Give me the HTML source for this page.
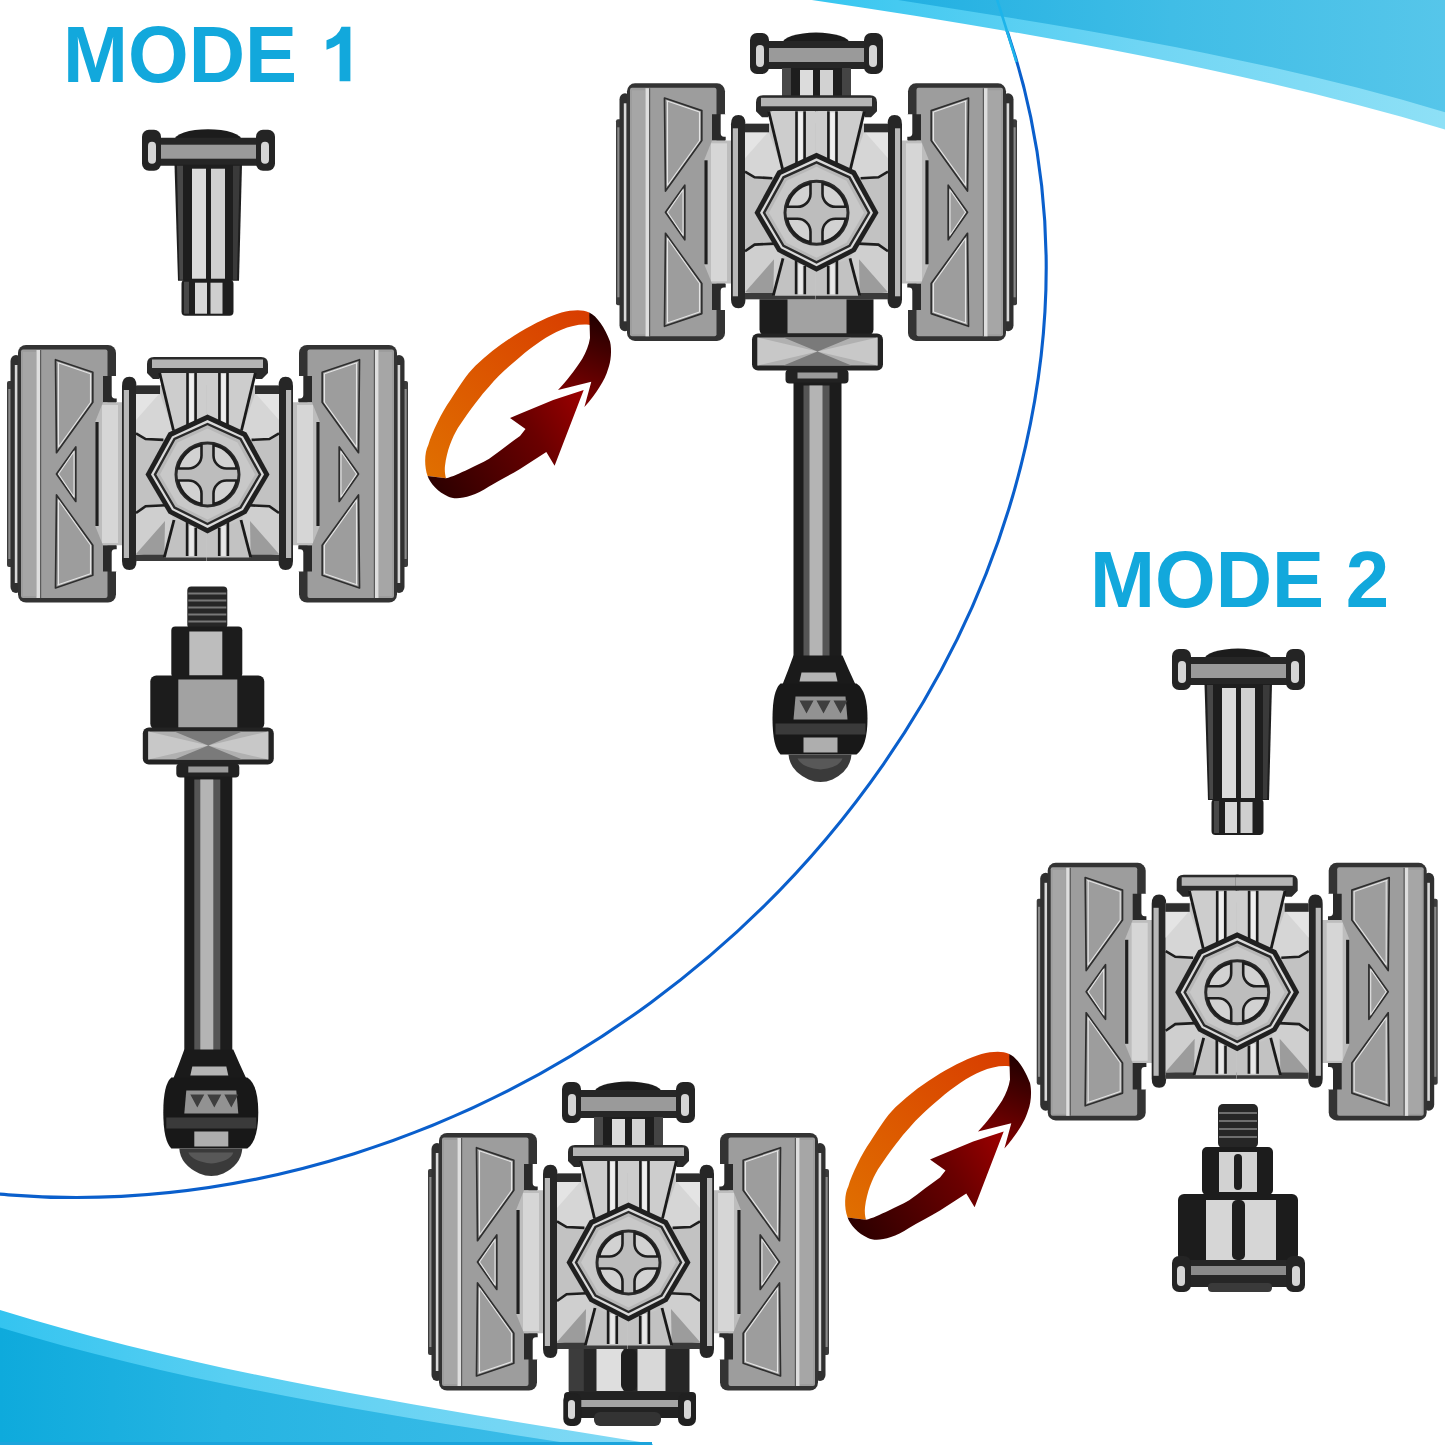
<!DOCTYPE html>
<html><head><meta charset="utf-8">
<style>
html,body{margin:0;padding:0;background:#fff;width:1445px;height:1445px;overflow:hidden}
svg{position:absolute;left:0;top:0}
.t{position:absolute;font-family:"Liberation Sans",sans-serif;font-weight:bold;font-size:78px;line-height:1;color:#12a8dc;white-space:nowrap;transform-origin:0 0}
</style></head><body>
<svg width="1445" height="1445" viewBox="0 0 1445 1445">
<defs>
 <linearGradient id="swTop" x1="898" y1="0" x2="1445" y2="0" gradientUnits="userSpaceOnUse">
  <stop offset="0" stop-color="#22b0e2"/><stop offset="0.5" stop-color="#40bde6"/><stop offset="1" stop-color="#56c6ea"/>
 </linearGradient>
 <linearGradient id="swTopL" x1="811" y1="0" x2="1445" y2="0" gradientUnits="userSpaceOnUse">
  <stop offset="0" stop-color="#36c6f0"/><stop offset="0.55" stop-color="#72d6f4"/><stop offset="1" stop-color="#8ee0f6"/>
 </linearGradient>
 <linearGradient id="swBot" x1="0" y1="0" x2="560" y2="0" gradientUnits="userSpaceOnUse">
  <stop offset="0" stop-color="#0eaadc"/><stop offset="0.4" stop-color="#26b4e2"/><stop offset="1" stop-color="#3cbce8"/>
 </linearGradient>
 <linearGradient id="swBotL" x1="0" y1="0" x2="653" y2="0" gradientUnits="userSpaceOnUse">
  <stop offset="0" stop-color="#34c4f0"/><stop offset="0.35" stop-color="#58cff2"/><stop offset="1" stop-color="#84daf5"/>
 </linearGradient>
 <g id="hh">
  <rect x="0" y="36" width="6" height="186" rx="2" fill="#3c3c3c"/>
  <rect x="1.3" y="44" width="2.6" height="170" fill="#8a8a8a"/>
  <rect x="3.5" y="10" width="11" height="238" rx="6" fill="#303030"/>
  <rect x="7.8" y="20" width="2.6" height="218" fill="#d8d8d8"/>
  <rect x="11" y="0" width="98" height="257.6" rx="8" fill="#333"/>
  <rect x="14" y="4.5" width="86.5" height="248.5" rx="2" fill="#9d9d9d"/>
  <rect x="16" y="7" width="13" height="244" fill="#a6a6a6"/>
  <rect x="29.5" y="5" width="3.5" height="248" fill="#dedede"/>
  <rect x="33" y="5" width="1.2" height="248" fill="#5a5a5a"/>
  <g fill="none" stroke-linejoin="round">
   <path d="M48.5,14.7 L85.8,27.3 V57.3 L49.5,107.7 Z M49.5,129 L68.8,101.9 V156.5 Z M48.5,243 L85.8,230.3 V200.3 L49.5,150 Z" stroke="#2e2e2e" stroke-width="1.7"/>
   <path d="M50.5,17.5 L83.5,28.8 V57.5 L51.5,102 V17.5 M51.5,129 L67,106.5 V152 Z M50.5,240 L83.5,228.8 V200 L51.5,155 V240" stroke="#e4e4e4" stroke-width="1.1"/>
  </g>
  <!-- notch (background gap) -->
  <path d="M96,31 H109.7 V57.3 H96 Z M96,200.3 H109.7 V226.6 H96 Z" fill="#2a2a2a"/>
  <path d="M109.7,-1 H116 V53.4 H108 Q104.7,53.4 104.7,50 V31 H109.7 Z M109.7,258.6 H116 V204.2 H108 Q104.7,204.2 104.7,207.6 V226.6 H109.7 Z" fill="#fff"/>
  <!-- connector -->
  <path d="M88.2,76.7 L96,57.3 H123 V200.3 H96 L88.2,181 Z" fill="#bdbdbd"/>
  <rect x="95" y="60" width="16" height="138" fill="#d6d6d6"/>
  <path d="M90,77 V181" stroke="#1e1e1e" stroke-width="3.2"/>
  <!-- center bar -->
  <path d="M115,41 Q115,31.8 122.5,31.8 Q129.5,31.8 129.5,41 V216 Q129.5,225 122.5,225 Q115,225 115,216 Z" fill="#262626"/>
  <rect x="116.8" y="45" width="5.2" height="168" fill="#b8b8b8"/>
  <!-- center body -->
  <rect x="129" y="40" width="72.5" height="176" fill="#c6c6c6"/>
  <path d="M129,49 H153 L166,85 L156.4,94.9 L138.6,94 L129,88.4 Z" fill="#d6d6d6"/>
  <path d="M129,49 L152,49 L129,75 Z" fill="#e4e4e4"/>
  <path d="M129,88.4 L138.6,94 L156.4,94.9 L138.6,129.5 L159,160.3 L138.6,161.3 L129,168 Z" fill="#c2c2c2"/>
  <path d="M129,168 L138.6,161.3 L159,160.3 L167,175 L157.3,212.4 H129 Z" fill="#cfcfcf"/>
  <path d="M129,209 L158,176 L157.3,212.4 Z" fill="#9c9c9c"/>
  <path d="M129,40.5 H153 V49 H129 Z" fill="#2e2e2e"/>
  <path d="M129,209.7 H201 V215.9 H129 Z" fill="#3a3a3a"/>
  <path d="M129,88.4 L138.6,94 L156.4,94.9 M129,168 L138.6,161.3 L159,160.3" fill="none" stroke="#1e1e1e" stroke-width="2.6"/>
  <!-- top protrusion -->
  <path d="M140,19 Q140,12 147,12 H202 V28 H156 L152,34 H146 L140,28 Z" fill="#2a2a2a"/>
  <rect x="145" y="14.5" width="57" height="8.5" fill="#b4b4b4"/>
  <!-- V-trapezoid -->
  <path d="M152.7,28 H201 V69.5 L166,85 Z" fill="#cdcdcd"/>
  <path d="M152.7,28 L166.5,85.5" stroke="#1a1a1a" stroke-width="2.8"/>
  <path d="M180.5,28 V84 M188.6,28 V79" stroke="#1a1a1a" stroke-width="2.6"/>
  <path d="M184.5,29 V80" stroke="#efefef" stroke-width="4.5"/>
  <!-- lower rays -->
  <path d="M167,175 L157.3,212.4 H201 V189 Z" fill="#c2c2c2"/>
  <path d="M167,175 L157.3,212.4" stroke="#1a1a1a" stroke-width="2.8"/>
  <path d="M180.1,177 V211 M188.8,182.7 V211" stroke="#1a1a1a" stroke-width="2.6"/>
  <path d="M184.5,181 V211" stroke="#e8e8e8" stroke-width="4.5"/>
 </g>
 <g id="med">
  <path d="M0,-60 L-39,-42 L-62,0 L-39,39 L0,59 L39,39 L62,0 L39,-42 Z" fill="#202020"/>
  <path d="M0,-54.5 L-35.5,-38 L-56.5,0 L-35.5,35.5 L0,53.5 L35.5,35.5 L56.5,0 L35.5,-38 Z" fill="#dadada"/>
  <path d="M0,-50.5 L-33,-35.5 L-52.5,0 L-33,33 L0,49.5 L33,33 L52.5,0 L33,-35.5 Z" fill="#b8b8b8" stroke="#2a2a2a" stroke-width="2.4"/>
  <path d="M0,-46 L-30,-32 L-47.5,0 L-30,30 L0,45 L30,30 L47.5,0 L30,-32 Z" fill="#c8c8c8"/>
  <circle cx="0" cy="0" r="31.5" fill="#bdbdbd" stroke="#2a2a2a" stroke-width="3"/>
  <path d="M-6,-29.4 A30,30 0 0 0 -29.4,-6 H-19 A13,13 0 0 0 -6,-19 Z M6,-29.4 A30,30 0 0 1 29.4,-6 H19 A13,13 0 0 1 6,-19 Z M-6,29.4 A30,30 0 0 1 -29.4,6 H-19 A13,13 0 0 1 -6,19 Z M6,29.4 A30,30 0 0 0 29.4,6 H19 A13,13 0 0 0 6,19 Z" fill="#d2d2d2" stroke="#1e1e1e" stroke-width="2.6" stroke-linejoin="round"/>
 </g>
 <g id="pin">
  <ellipse cx="66" cy="12" rx="34" ry="11.5" fill="#1c1c1c"/>
  <rect x="8" y="9" width="117" height="28" rx="3" fill="#262626"/>
  <rect x="17" y="16" width="100" height="14" fill="#9a9a9a"/>
  <rect x="0" y="1" width="19" height="41" rx="7" fill="#242424"/>
  <rect x="114" y="1" width="19" height="41" rx="7" fill="#242424"/>
  <rect x="6" y="13" width="8" height="22" rx="4" fill="#d5d5d5"/>
  <rect x="119" y="13" width="8" height="22" rx="4" fill="#d5d5d5"/>
  <path d="M32.5,36 H100 L97,152 H36 Z" fill="#1e1e1e"/>
  <path d="M35,37 H41 V151 H37.5 Z" fill="#484848"/>
  <path d="M91,37 H97.8 L95,151 H91 Z" fill="#3a3a3a"/>
  <rect x="50" y="40" width="14" height="110" fill="#dcdcdc"/>
  <rect x="69" y="40" width="14" height="110" fill="#d0d0d0"/>
  <rect x="39.5" y="151" width="52" height="36" rx="4" fill="#1e1e1e"/>
  <rect x="42" y="153" width="5" height="32" fill="#484848"/>
  <rect x="53" y="154" width="12" height="31" fill="#d8d8d8"/>
  <rect x="68.5" y="154" width="12" height="31" fill="#cfcfcf"/>
 </g>
 <g id="capTop">
  <ellipse cx="66" cy="12" rx="34" ry="11.5" fill="#1c1c1c"/>
  <rect x="8" y="9" width="117" height="28" rx="3" fill="#262626"/>
  <rect x="17" y="16" width="100" height="14" fill="#9a9a9a"/>
  <rect x="0" y="1" width="19" height="41" rx="7" fill="#242424"/>
  <rect x="114" y="1" width="19" height="41" rx="7" fill="#242424"/>
  <rect x="6" y="13" width="8" height="22" rx="4" fill="#d5d5d5"/>
  <rect x="119" y="13" width="8" height="22" rx="4" fill="#d5d5d5"/>
  <rect x="32" y="36" width="69" height="34" fill="#1e1e1e"/>
  <rect x="32" y="36" width="9" height="34" fill="#484848"/>
  <rect x="92" y="36" width="9" height="34" fill="#444"/>
  <rect x="50" y="38" width="13" height="32" fill="#dcdcdc"/>
  <rect x="70" y="38" width="13" height="32" fill="#d2d2d2"/>
 </g>
 <g id="nutTop">
  <rect x="-21" y="-177" width="40" height="42" rx="4" fill="#262626"/>
  <path d="M-20,-170 h38 M-20,-163 h38 M-20,-156 h38 M-20,-149 h38 M-20,-142 h38" stroke="#777" stroke-width="2"/>
  <rect x="-37" y="-137" width="71" height="51" rx="4" fill="#1c1c1c"/>
  <rect x="-19" y="-132" width="33" height="44" fill="#bdbdbd"/>
 </g>
 <g id="nut">
  <rect x="-58" y="-88" width="114" height="54" rx="6" fill="#1c1c1c"/>
  <rect x="-30" y="-84" width="59" height="48" fill="#a2a2a2"/>
  <rect x="-65.5" y="-36" width="131" height="37" rx="6" fill="#232323"/>
  <path d="M-60,-32 H60 V-4 H-60 Z" fill="#b0b0b0"/>
  <path d="M-60,-32 L0,-18 L-60,-4 Z M60,-32 L0,-18 L60,-4 Z" fill="#c8c8c8"/>
  <path d="M-34,-32 L0,-18 L34,-32 Z M-34,-4 L0,-18 L34,-4 Z" fill="#7a7a7a"/>
  <rect x="-32" y="0" width="63" height="14" rx="4" fill="#222"/>
  <rect x="-20" y="3" width="40" height="6" fill="#9a9a9a"/>
 </g>
 <g id="rod">
  <rect x="-24" y="13" width="48" height="278" fill="#1c1c1c"/>
  <rect x="-14" y="16" width="26" height="272" fill="#555"/>
  <rect x="-8" y="16" width="13" height="272" fill="#b4b4b4"/>
  <path d="M-24,286 H25 Q31,300 38,315 H-35 Q-29,300 -24,286 Z" fill="#1a1a1a"/>
  <path d="M-16,303 H18 L20,312 H-18 Z" fill="#b4b4b4"/>
  <path d="M-37,314 H39 Q50,321 50,349 Q50,377 39,385 H-37 Q-45,377 -45,349 Q-45,321 -37,314 Z" fill="#181818"/>
  <path d="M-22,327 H28 L30,350 H-24 Z" fill="#929292"/>
  <path d="M-18,331 L-11,344 L-4,331 Z M-1,331 L6,344 L13,331 Z M16,331 L23,344 L30,331 Z" fill="#3e3e3e"/>
  <rect x="-42" y="354" width="90" height="11" fill="#3a3a3a"/>
  <path d="M-14,368 H20 V383 H-14 Z" fill="#aeaeae"/>
  <path d="M-29,385 H34 Q33,401 15,410 Q3,415 -9,410 Q-28,401 -29,385 Z" fill="#3a3a3a"/>
  <path d="M-20,389 H25 Q22,398 3,400 Q-16,398 -20,389 Z" fill="#585858"/>
 </g>
 <g id="capBottom">
  <rect x="568.8" y="1347" width="120.7" height="46" fill="#262626"/>
  <rect x="568.8" y="1348" width="15" height="43" fill="#3c3c3c"/>
  <rect x="596.5" y="1349" width="27" height="42" fill="#dedede"/>
  <rect x="621" y="1349" width="16" height="42" rx="6" fill="#1e1e1e"/>
  <rect x="637.5" y="1349" width="28" height="42" fill="#d8d8d8"/>
  <rect x="564" y="1392" width="132" height="26" rx="4" fill="#222"/>
  <rect x="581" y="1400" width="97" height="7" fill="#a4a4a4"/>
  <rect x="594" y="1412" width="67" height="14" rx="6" fill="#333"/>
  <rect x="563.3" y="1393" width="18" height="33" rx="7" fill="#202020"/>
  <rect x="678" y="1393" width="18" height="33" rx="7" fill="#202020"/>
  <rect x="568" y="1400" width="7" height="19" rx="3.5" fill="#d6d6d6"/>
  <rect x="684" y="1400" width="7" height="19" rx="3.5" fill="#d6d6d6"/>
 </g>
 <g id="arrow">
  <linearGradient id="ogr" x1="425" y1="480" x2="590" y2="310" gradientUnits="userSpaceOnUse">
   <stop offset="0" stop-color="#e07000"/><stop offset="1" stop-color="#d83c00"/>
  </linearGradient>
  <linearGradient id="dgr" x1="430" y1="490" x2="600" y2="390" gradientUnits="userSpaceOnUse">
   <stop offset="0" stop-color="#2a0000"/><stop offset="0.6" stop-color="#6a0000"/><stop offset="1" stop-color="#a80000"/>
  </linearGradient>
  <linearGradient id="dgr2" x1="600" y1="315" x2="570" y2="400" gradientUnits="userSpaceOnUse">
   <stop offset="0" stop-color="#200000"/><stop offset="1" stop-color="#800000"/>
  </linearGradient>
  <path d="M427.6,476 C424,466 424.5,452 428.3,445 C432,432 442,412 450.4,400 C458,388 466,375 475.4,365.7 C490,352 505,341 520,332 C535,323 550,316 561.5,312.5 C572,310 582,309 589.2,312.5 L592.7,325.6 C585,323 572,325 561.5,329.8 C548,335 533,346 520,357 C508,367 497,377 489.2,386.5 C482,394 470,410 458,427.7 C452,438 447,450 445,465.7 C444.5,470 445,475 446,478.2 Z" fill="url(#ogr)"/>
  <path d="M589.2,312.5 C597,316 605,328 610,341.5 C612,350 611,362 608,369.2 C605,380 596,394 584.4,407 L591.3,381.7 L558,390 C566,382 575,370 582.3,358.8 C586,352 589,345 590,338 Z" fill="url(#dgr2)"/>
  <path d="M427.6,476 C430,483 438,492 448,496.5 C455,500 470,499 489,486.5 C498,481 510,475 520,469 L546.3,451.9 L554.6,465.7 L583.7,390 L553.2,400 L520,413.8 L510,418 L525.5,429 L520,436 C510,443 500,451 489.2,458.8 C482,463 475,466 468.4,469.2 C460,473 452,477 446,478.2 Z" fill="url(#dgr)"/>
 </g>
 <g id="screwbase">
  <rect x="1218" y="1104" width="40" height="44" rx="5" fill="#262626"/>
  <path d="M1219,1113 h38 M1219,1121 h38 M1219,1129 h38 M1219,1137 h38" stroke="#6e6e6e" stroke-width="2"/>
  <rect x="1202" y="1147" width="71" height="48" rx="5" fill="#1c1c1c"/>
  <rect x="1219" y="1152" width="38" height="40" fill="#d2d2d2"/>
  <rect x="1234" y="1154" width="8" height="36" rx="4" fill="#1e1e1e"/>
  <rect x="1178" y="1194" width="120" height="67" rx="6" fill="#1c1c1c"/>
  <rect x="1206" y="1200" width="70" height="60" fill="#d6d6d6"/>
  <rect x="1232" y="1200" width="13" height="60" rx="5" fill="#1e1e1e"/>
  <rect x="1180" y="1260" width="117" height="27" rx="3" fill="#262626"/>
  <rect x="1190" y="1266" width="100" height="9" fill="#8a8a8a"/>
  <rect x="1208" y="1283" width="64" height="9" rx="4" fill="#3a3a3a"/>
  <rect x="1172" y="1256" width="19" height="36" rx="7" fill="#242424"/>
  <rect x="1286" y="1256" width="19" height="36" rx="7" fill="#242424"/>
  <rect x="1177" y="1266" width="8" height="20" rx="4" fill="#d5d5d5"/>
  <rect x="1292" y="1266" width="8" height="20" rx="4" fill="#d5d5d5"/>
 </g>

</defs>
<!-- top-right swoosh -->
<ellipse cx="193.45" cy="380.84" rx="771.83" ry="893.30" transform="rotate(53.64 193.45 380.84)" fill="none" stroke="#0a5fcc" stroke-width="3.1"/>
<path d="M811.8,0 C1024.5,31.9 1238.3,67.9 1445,129.5 L1445,0 Z" fill="url(#swTopL)"/>
<path d="M898,0 C1082.1,28.5 1266.1,58.7 1445,112.2 L1445,0 Z" fill="url(#swTop)"/>
<path d="M996.6,-2 Q1008,34 1016.5,62" fill="none" stroke="#1db4ea" stroke-width="2.6"/>
<!-- bottom-left swoosh -->
<path d="M0,1310 C212.5,1375.8 434.3,1408.3 653,1444 L653,1445 L0,1445 Z" fill="url(#swBotL)"/>
<path d="M0,1327.4 C182.6,1382.8 371.9,1412.9 560,1442 L560,1445 L0,1445 Z" fill="url(#swBot)"/>
<rect x="0" y="1442" width="652" height="3" fill="#1ca4dc"/>
<path d="M339.6,81.3 H350.4 V26.8 H341.5 Q338,37 326.5,40.3 V49.8 Q334,47.8 339.6,43.6 Z" fill="#12a8dc"/>
<g id="objects">
<use href="#pin" transform="translate(142,128.7)"/>
<g transform="translate(7,345)"><use href="#hh"/><use href="#hh" transform="translate(401,0) scale(-1,1)"/><use href="#med" transform="translate(200.5,129.5)"/></g>
<g transform="translate(208.3,763.5)"><use href="#nutTop"/><use href="#nut"/><use href="#rod"/></g>
<use href="#arrow"/>
<use href="#capTop" transform="translate(750,32)"/>
<g transform="translate(817.5,369.5)"><use href="#nut"/><use href="#rod"/></g>
<g transform="translate(616,83.3)"><use href="#hh"/><use href="#hh" transform="translate(401,0) scale(-1,1)"/><use href="#med" transform="translate(200.5,129.5)"/></g>
<use href="#pin" transform="translate(1172,648)"/>
<g transform="translate(1036.7,862.8)"><use href="#hh"/><use href="#hh" transform="translate(401,0) scale(-1,1)"/><use href="#med" transform="translate(200.5,129.5)"/></g>
<use href="#screwbase"/>
<use href="#arrow" transform="translate(420,741.5)"/>
<use href="#capTop" transform="translate(562,1081)"/>
<use href="#capBottom"/>
<g transform="translate(428,1133)"><use href="#hh"/><use href="#hh" transform="translate(401,0) scale(-1,1)"/><use href="#med" transform="translate(200.5,129.5)"/></g>
</g>
</svg>
<div class="t" style="left:63px;top:14px;transform:scaleY(1.03)">MODE</div>
<div class="t" style="left:1090px;top:539px;transform:scaleY(1.03)">MODE 2</div>
</body></html>
